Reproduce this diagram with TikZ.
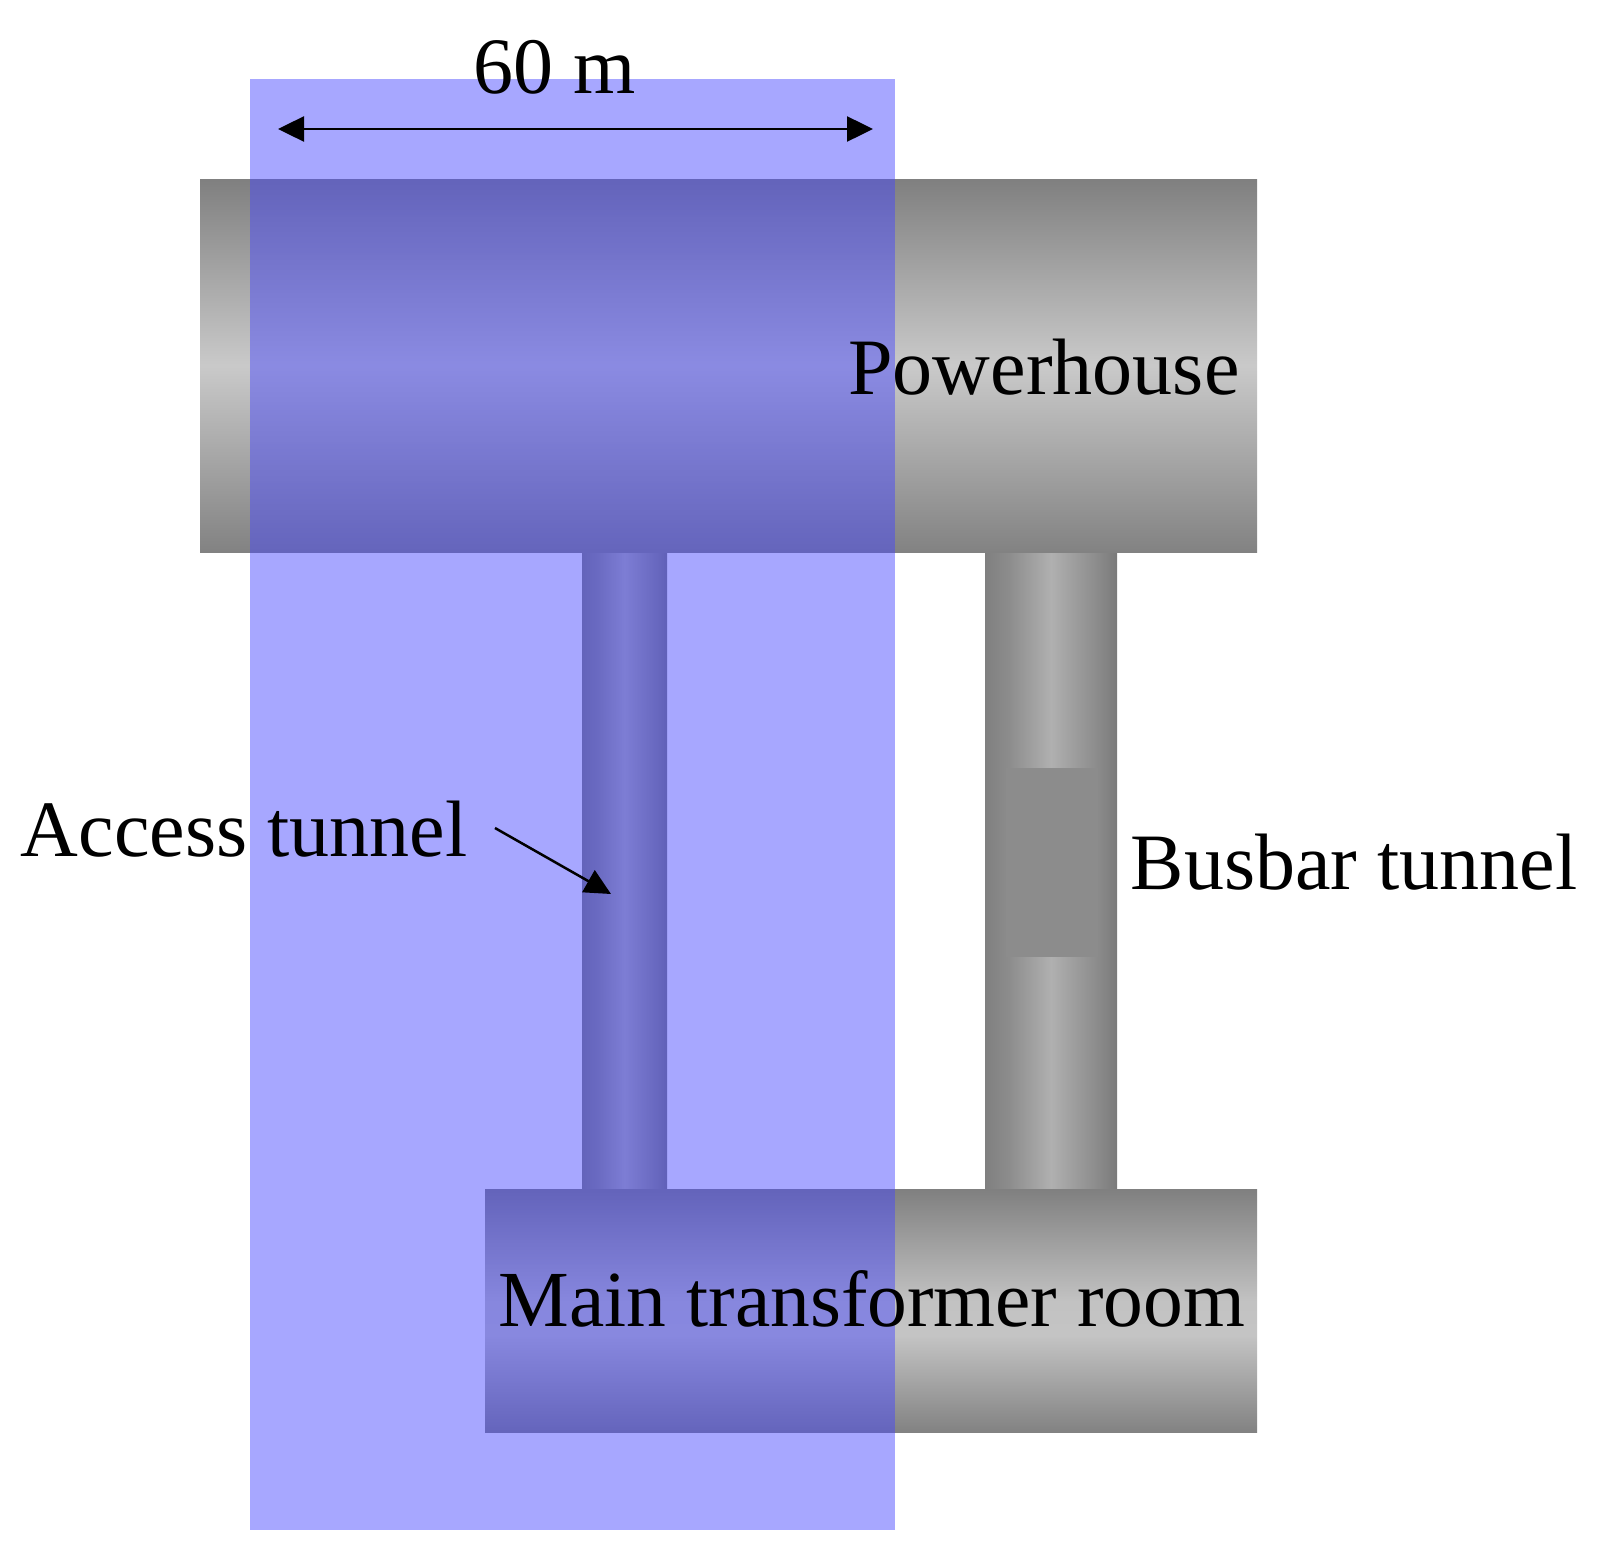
\documentclass[tikz,border=0pt]{standalone}
\usepackage{fontspec}
\setmainfont{Liberation Serif}
\usetikzlibrary{arrows.meta}
\definecolor{overlayc}{RGB}{68,68,255}
\definecolor{bandc}{HTML}{8C8C8C}
\pgfdeclareverticalshading{roomshade}{100bp}{color(0bp)=(black!50);color(25bp)=(black!49);color(50bp)=(black!21);color(75bp)=(black!50);color(100bp)=(black!50)}
\pgfdeclareverticalshading{transshade}{100bp}{color(0bp)=(black!50);color(25bp)=(black!49);color(45bp)=(black!23);color(52bp)=(black!24);color(75bp)=(black!50);color(100bp)=(black!50)}
\pgfdeclarehorizontalshading{tunshade}{100bp}{color(0bp)=(black!50);color(25bp)=(black!50);color(34bp)=(black!45);color(50bp)=(black!31);color(67bp)=(black!45);color(75bp)=(black!52);color(100bp)=(black!52)}
\tikzset{
  x=1pt,y=-1pt,
  lab/.style={font=\fontsize{80}{90}\selectfont,inner sep=0pt,text=black},
  tighter/.style={font=\fontsize{79.5}{90}\selectfont,inner sep=0pt,text=black},
  hroom/.style={shading=roomshade,draw=none},
  troom/.style={shading=transshade,draw=none},
  vtun/.style={shading=tunshade,draw=none},
  arr/.style={line width=2.5pt,black},
  tip/.tip={Triangle[length=26pt,width=25pt]},
}
\begin{document}
\begin{tikzpicture}
\useasboundingbox (0,0) rectangle (1603,1566);
\fill[white] (0,0) rectangle (1603,1566);
% tunnels
\shade[vtun] (582,552) rectangle (667,1189);
\shade[vtun] (985,552) rectangle (1117,1189);
\fill[bandc] (1006,768) rectangle (1098,957);
% rooms
\shade[hroom] (200,179) rectangle (1257,552);
\shade[troom] (485,1189) rectangle (1257,1432);
% overlay
\fill[overlayc,fill opacity=0.465] (250,79) rectangle (895,1530);
% labels
\node[lab,anchor=base] (sixty) at (555,93) {60 m};
\node[lab,anchor=base] (power) at (1044,394) {Powerhouse};
\node[lab,anchor=base] (access) at (244,856) {Access tunnel};
\node[lab,anchor=base] (busbar) at (1354,889) {Busbar tunnel};
\node[tighter,anchor=base] (trans) at (872,1326) {Main transformer room};
% connectors
\coordinate (dl) at (278,129);
\coordinate (dr) at (873,129);
\coordinate (as) at (495,828);
\coordinate (ae) at (611,894);
\draw[arr,{Triangle[length=26pt,width=25pt]}-{Triangle[length=26pt,width=25pt]}] (dl) -- (dr);
\draw[arr,-{Triangle[length=26pt,width=25pt]}] (as) -- (ae);
\end{tikzpicture}
\end{document}
